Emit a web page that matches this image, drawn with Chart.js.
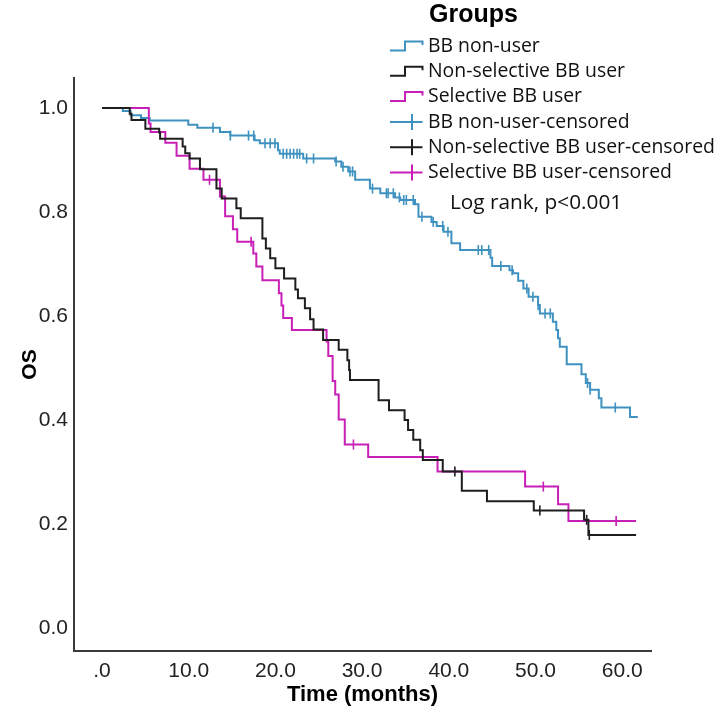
<!DOCTYPE html>
<html><head><meta charset="utf-8">
<script src="https://cdn.jsdelivr.net/npm/chart.js@4.4.1/dist/chart.umd.min.js"></script>
<style>html,body{margin:0;padding:0;background:#fff;}canvas{display:block}</style>
</head><body>
<canvas id="c" width="721" height="714"></canvas>
<script>
// ---- Data ----
const groupNames = ['BB non-user', 'Non-selective BB user', 'Selective BB user'];
const censorNames = ['BB non-user-censored', 'Non-selective BB user-censored', 'Selective BB user-censored'];
const annotationText = 'Log rank, p<0.001';
const legendTitle = 'Groups';

const nonUserTimes = [0, 2.4, 3.3, 4.5, 5.5, 9.95, 11.0, 13.6, 14.8, 17.6, 18.2, 20.3, 20.5, 23.2, 26.9, 27.6, 28.4, 29.2, 30.9, 32.1, 33.8, 34.4, 36.1, 36.5, 38.0, 38.6, 39.4, 40.3, 41.3, 44.8, 45.0, 47.0, 47.4, 48.0, 48.6, 49.2, 50.3, 50.5, 52.0, 52.4, 52.6, 52.8, 53.6, 55.3, 55.8, 56.3, 57.3, 57.6, 60.9, 61.8];
const nonUserSurv  = [1.0, 0.994, 0.986, 0.981, 0.976, 0.968, 0.962, 0.954, 0.947, 0.938, 0.932, 0.919, 0.912, 0.903, 0.897, 0.887, 0.878, 0.862, 0.845, 0.836, 0.828, 0.823, 0.815, 0.791, 0.781, 0.773, 0.762, 0.740, 0.727, 0.712, 0.696, 0.688, 0.682, 0.668, 0.653, 0.637, 0.621, 0.605, 0.589, 0.573, 0.557, 0.541, 0.507, 0.488, 0.471, 0.458, 0.442, 0.424, 0.406, 0.406];
const nonUserCensor = [12.8, 14.8, 16.9, 17.5, 18.8, 19.4, 19.95, 20.9, 21.3, 21.7, 22.1, 22.5, 22.8, 23.6, 24.4, 27.0, 27.8, 28.6, 28.9, 31.2, 32.8, 33.0, 33.6, 34.3, 34.8, 35.1, 35.9, 36.9, 38.2, 39.3, 39.9, 43.4, 43.8, 44.6, 46.0, 47.3, 49.0, 49.7, 50.3, 51.1, 51.7, 56.0, 56.3, 59.2];

const nonSelTimes = [0, 3.2, 3.4, 5.0, 6.6, 6.7, 9.3, 9.6, 10.1, 11.3, 13.2, 13.8, 15.5, 16.0, 18.5, 18.9, 19.4, 20.0, 21.0, 22.3, 22.6, 23.4, 24.0, 24.4, 25.5, 27.3, 28.3, 28.5, 28.6, 31.9, 33.1, 34.9, 35.3, 35.9, 36.7, 37.0, 39.3, 41.5, 44.4, 49.8, 55.6, 56.1, 61.6];
const nonSelSurv  = [1.0, 0.989, 0.977, 0.960, 0.953, 0.941, 0.926, 0.913, 0.903, 0.882, 0.845, 0.826, 0.807, 0.788, 0.749, 0.730, 0.711, 0.692, 0.672, 0.651, 0.634, 0.615, 0.594, 0.574, 0.554, 0.535, 0.515, 0.496, 0.477, 0.438, 0.419, 0.400, 0.381, 0.362, 0.342, 0.323, 0.301, 0.264, 0.244, 0.226, 0.208, 0.179, 0.179];
const nonSelCensor = [40.7, 50.5, 55.9, 56.2];

const selTimes = [0, 5.4, 5.6, 7.3, 8.6, 10.1, 11.7, 13.6, 14.2, 15.1, 15.6, 17.45, 17.8, 18.5, 20.4, 20.7, 20.9, 21.9, 25.9, 26.1, 26.6, 26.9, 27.3, 28.0, 30.7, 38.7, 48.8, 52.6, 53.8, 61.6];
const selSurv  = [1.0, 0.970, 0.954, 0.933, 0.908, 0.883, 0.862, 0.830, 0.792, 0.767, 0.743, 0.720, 0.695, 0.669, 0.644, 0.620, 0.596, 0.573, 0.551, 0.523, 0.475, 0.449, 0.401, 0.353, 0.329, 0.301, 0.272, 0.238, 0.206, 0.206];
const selCensor = [12.4, 17.2, 29.0, 50.9, 59.3];

const xTickValues = [0, 10, 20, 30, 40, 50, 60];
const xTickLabels = ['.0', '10.0', '20.0', '30.0', '40.0', '50.0', '60.0'];
const yTickValues = [0, 0.2, 0.4, 0.6, 0.8, 1.0];
const yTickLabels = ['0.0', '0.2', '0.4', '0.6', '0.8', '1.0'];
const xTitle = 'Time (months)';
const yTitle = 'OS';

// ---- Styles ----
const colBlue = '#3f92c0';
const colBlack = '#1e1e1e';
const colMag = '#c81fb6';
const tickFont = '"Liberation Sans", Arial, sans-serif';

function toPoints(ts, vs) { return ts.map((t, i) => ({x: t, y: vs[i]})); }
function lookup(ts, vs, t) { let v = vs[0]; for (let i = 0; i < ts.length; i++) { if (ts[i] <= t) v = vs[i]; } return v; }
function censorPoints(cs, ts, vs) { return cs.map(t => ({x: t, y: lookup(ts, vs, t)})); }

const lineDs = (label, ts, vs, color, order) => ({
  type: 'line', label, data: toPoints(ts, vs), borderColor: color, borderWidth: 2,
  stepped: true, pointRadius: 0, fill: false, order, tension: 0
});
const censorDs = (label, cs, ts, vs, color, order) => ({
  type: 'line', label, data: censorPoints(cs, ts, vs), showLine: false, borderColor: color,
  backgroundColor: color, pointStyle: 'line', rotation: 90, pointRadius: 5, pointBorderWidth: 1.6,
  pointHoverRadius: 5, order
});

const legendPlugin = {
  id: 'kmLegend',
  afterDraw(chart) {
    const ctx = chart.ctx;
    ctx.save();
    ctx.textBaseline = 'middle';
    ctx.fillStyle = '#000';
    ctx.font = 'bold 25px "Liberation Sans", Arial, sans-serif';
    ctx.fillText(legendTitle, 429, 15);
    const colors = [colBlue, colBlack, colMag];
    const x0 = 390, x1 = 422.5, xm = 405, xt = 428;
    ctx.font = '19.4px "Open Sans", "Noto Sans", sans-serif';
    for (let i = 0; i < 6; i++) {
      const cy = 46.5 + 25.2 * i;
      const col = colors[i % 3];
      ctx.strokeStyle = col;
      ctx.lineWidth = 2;
      ctx.beginPath();
      if (i < 3) {
        ctx.moveTo(x0, cy + 4); ctx.lineTo(xm, cy + 4); ctx.lineTo(xm, cy - 5); ctx.lineTo(x1, cy - 5); ctx.lineTo(x1, cy - 1.5);
      } else {
        ctx.moveTo(x0, cy); ctx.lineTo(x1, cy);
        ctx.moveTo(412, cy - 8); ctx.lineTo(412, cy + 8);
      }
      ctx.stroke();
      ctx.fillStyle = '#111';
      ctx.fillText(i < 3 ? groupNames[i] : censorNames[i - 3], xt, cy);
    }
    ctx.font = '20.8px "Open Sans", "Noto Sans", sans-serif';
    ctx.fillText(annotationText, 450, 203);
    ctx.restore();
  }
};

new Chart(document.getElementById('c'), {
  data: {
    datasets: [
      censorDs(censorNames[1], nonSelCensor, nonSelTimes, nonSelSurv, colBlack, 0),
      lineDs(groupNames[1], nonSelTimes, nonSelSurv, colBlack, 1),
      censorDs(censorNames[2], selCensor, selTimes, selSurv, colMag, 2),
      lineDs(groupNames[2], selTimes, selSurv, colMag, 3),
      censorDs(censorNames[0], nonUserCensor, nonUserTimes, nonUserSurv, colBlue, 4),
      lineDs(groupNames[0], nonUserTimes, nonUserSurv, colBlue, 5)
    ]
  },
  options: {
    responsive: false, animation: false, events: [],
    layout: {padding: {left: 0, right: 70, top: 78, bottom: 0}},
    plugins: {legend: {display: false}, tooltip: {enabled: false}, title: {display: false}},
    scales: {
      x: {
        type: 'linear', min: -3.23, max: 63.32,
        grid: {display: false, drawTicks: false, tickLength: 0},
        border: {display: true, color: '#3a3a3a', width: 2},
        afterFit(s) { s.height = 63; },
        afterBuildTicks(s) { s.ticks = xTickValues.map(v => ({value: v})); },
        ticks: {
          autoSkip: false, maxRotation: 0, padding: 8, color: '#222',
          font: {family: tickFont, size: 21},
          callback(v) { const i = xTickValues.indexOf(v); return i >= 0 ? xTickLabels[i] : ''; }
        },
        title: {display: true, text: xTitle, color: '#000', padding: {top: 0, bottom: 6},
          font: {family: tickFont, size: 22, weight: 'bold'}}
      },
      y: {
        type: 'linear', min: -0.0442, max: 1.0577,
        grid: {display: false, drawTicks: false, tickLength: 0},
        border: {display: true, color: '#3a3a3a', width: 2},
        afterFit(s) { s.width = 74; },
        afterBuildTicks(s) { s.ticks = yTickValues.map(v => ({value: v})); },
        ticks: {
          autoSkip: false, padding: 6, color: '#222',
          font: {family: tickFont, size: 21},
          callback(v) { const i = yTickValues.findIndex(t => Math.abs(t - v) < 1e-9); return i >= 0 ? yTickLabels[i] : ''; }
        },
        title: {display: true, text: yTitle, color: '#000', padding: {top: 18, bottom: 0},
          font: {family: tickFont, size: 21, weight: 'bold'}}
      }
    }
  },
  plugins: [legendPlugin]
});
</script>
</body></html>
